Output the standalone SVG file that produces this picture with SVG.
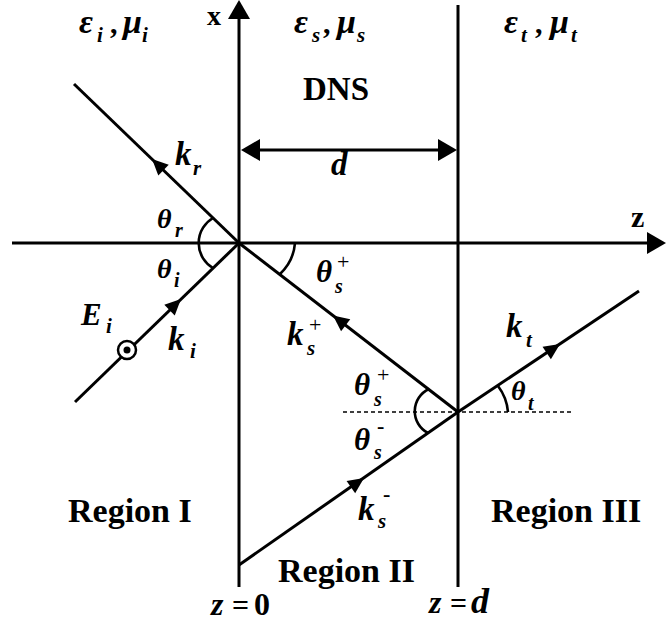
<svg xmlns="http://www.w3.org/2000/svg" xmlns:xlink="http://www.w3.org/1999/xlink" width="666" height="626" viewBox="0 0 666 626">
<style>
  .ln{stroke:#000;stroke-width:3;fill:none}
  .arc{stroke:#000;stroke-width:2.6;fill:none}
  .dot{stroke:#000;stroke-width:1.5;stroke-dasharray:4 3;fill:none}
  text{font-family:"Liberation Serif","Times New Roman",serif;fill:#000;font-weight:bold}
  .it{font-style:italic}
  .big{font-size:34px}
  .lab{font-size:33px;font-style:italic}
  .sub{font-size:21px;font-style:italic}
  .th{font-size:28px;font-style:italic}
  .sup{font-size:22px;font-weight:normal}
</style>
<defs>
  <path id="ah" d="M0,0 L-16,-7.5 L-16,7.5 Z" fill="#000"/>
  <path id="axh" d="M0,0 L-19,-11 L-19,11 Z" fill="#000"/>
</defs>

<g id="connectors">
  <line class="ln" x1="239" y1="16" x2="239" y2="587"/>
  <use xlink:href="#axh" transform="translate(239,0) rotate(-90)"/>
  <line class="ln" x1="458" y1="5" x2="458" y2="587"/>
  <line class="ln" x1="12" y1="243" x2="650" y2="243"/>
  <use xlink:href="#axh" transform="translate(666,243)"/>
  <line class="ln" x1="258" y1="150" x2="442" y2="150"/>
  <use xlink:href="#axh" transform="translate(241,150) rotate(180)"/>
  <use xlink:href="#axh" transform="translate(457,150)"/>
  <line class="ln" x1="74" y1="84" x2="239" y2="243"/>
  <line class="ln" x1="75" y1="402" x2="239" y2="243"/>
  <line class="ln" x1="239" y1="243" x2="458" y2="412"/>
  <line class="ln" x1="239" y1="565" x2="458" y2="412"/>
  <line class="ln" x1="458" y1="412" x2="639" y2="291"/>
  <use xlink:href="#ah" transform="translate(152,159) rotate(224)"/>
  <use xlink:href="#ah" transform="translate(181,299) rotate(-44.1)"/>
  <use xlink:href="#ah" transform="translate(333,315.5) rotate(217.7)"/>
  <use xlink:href="#ah" transform="translate(560,344) rotate(-33.8)"/>
  <use xlink:href="#ah" transform="translate(364,478) rotate(-34.9)"/>
  <line class="dot" x1="343" y1="412" x2="571" y2="412"/>
  <path class="arc" d="M213,218 A29,29 0 0 0 213,268"/>
  <path class="arc" d="M295,243 A48,48 0 0 1 280,274"/>
  <path class="arc" d="M429,389 A24.5,24.5 0 0 0 428,433"/>
  <path class="arc" d="M508,412 A50,50 0 0 0 498,386"/>
</g>

<g id="axis-labels">
  <text x="207" y="25" style="font-size:28px">x</text>
  <text x="631" y="227" style="font-size:30px">z</text>
</g>

<g id="media">
  <text class="it" style="font-size:34px"><tspan x="79" y="33">ε</tspan><tspan x="97" y="42" style="font-size:21px">i</tspan><tspan x="110" y="33" style="font-style:normal;font-size:30px">,</tspan><tspan x="123" y="33">μ</tspan><tspan x="142" y="42" style="font-size:21px">i</tspan></text>
  <text class="it" style="font-size:34px"><tspan x="294" y="33">ε</tspan><tspan x="312" y="42" style="font-size:21px">s</tspan><tspan x="323" y="33" style="font-style:normal;font-size:30px">,</tspan><tspan x="337" y="33">μ</tspan><tspan x="357" y="42" style="font-size:21px">s</tspan></text>
  <text class="it" style="font-size:34px"><tspan x="504" y="33">ε</tspan><tspan x="521" y="42" style="font-size:21px">t</tspan><tspan x="535" y="33" style="font-style:normal;font-size:30px">,</tspan><tspan x="550" y="33">μ</tspan><tspan x="571" y="42" style="font-size:21px">t</tspan></text>
  <text x="303" y="100" style="font-size:33px">DNS</text>
  <text x="331" y="175" class="lab">d</text>
</g>

<g id="source">
  <circle cx="127" cy="350" r="9" fill="#fff" stroke="#000" stroke-width="2.5"/>
  <circle cx="127" cy="350" r="3.5" fill="#000"/>
  <text><tspan x="81" y="325" class="lab" style="font-size:31px">E</tspan><tspan x="106" y="333" class="sub">i</tspan></text>
</g>

<g id="wave-labels">
  <text><tspan x="175" y="165" class="lab">k</tspan><tspan x="193" y="175" class="sub">r</tspan></text>
  <text><tspan x="168" y="350" class="lab">k</tspan><tspan x="190" y="358" class="sub">i</tspan></text>
  <text><tspan x="506" y="337" class="lab">k</tspan><tspan x="526" y="347" class="sub">t</tspan></text>
  <text><tspan x="287" y="345" class="lab">k</tspan><tspan x="309" y="332" class="sup">+</tspan><tspan x="307" y="355" class="sub">s</tspan></text>
  <text><tspan x="358" y="520" class="lab">k</tspan><tspan x="383" y="501" class="sup" style="font-weight:bold">-</tspan><tspan x="378" y="528" class="sub">s</tspan></text>
</g>

<g id="angle-labels">
  <text><tspan x="157" y="228" class="th">θ</tspan><tspan x="175" y="237" class="sub" style="font-size:20px">r</tspan></text>
  <text><tspan x="157" y="278" class="th">θ</tspan><tspan x="174" y="287" class="sub" style="font-size:20px">i</tspan></text>
  <text><tspan x="316" y="282" class="th" style="font-size:31px">θ</tspan><tspan x="337" y="269" class="sup">+</tspan><tspan x="335" y="293" class="sub" style="font-size:20px">s</tspan></text>
  <text><tspan x="354" y="395" class="th" style="font-size:31px">θ</tspan><tspan x="377" y="382" class="sup">+</tspan><tspan x="374" y="406" class="sub" style="font-size:20px">s</tspan></text>
  <text><tspan x="354" y="450" class="th" style="font-size:31px">θ</tspan><tspan x="377" y="433" class="sup" style="font-weight:bold">-</tspan><tspan x="374" y="459" class="sub" style="font-size:20px">s</tspan></text>
  <text><tspan x="511" y="400" class="th">θ</tspan><tspan x="528" y="410" class="sub" style="font-size:20px">t</tspan></text>
</g>

<g id="regions">
  <text x="68" y="522" class="big">Region I</text>
  <text x="278" y="582" class="big">Region II</text>
  <text x="491" y="522" class="big">Region III</text>
  <text style="font-size:30px"><tspan x="211" y="615" class="it" style="font-size:32px">z</tspan><tspan x="232" y="615">=</tspan><tspan x="254" y="615" style="font-size:32px">0</tspan></text>
  <text style="font-size:30px"><tspan x="429" y="613" class="it" style="font-size:32px">z</tspan><tspan x="450" y="613">=</tspan><tspan x="471" y="613" class="it" style="font-size:36px">d</tspan></text>
</g>
</svg>
